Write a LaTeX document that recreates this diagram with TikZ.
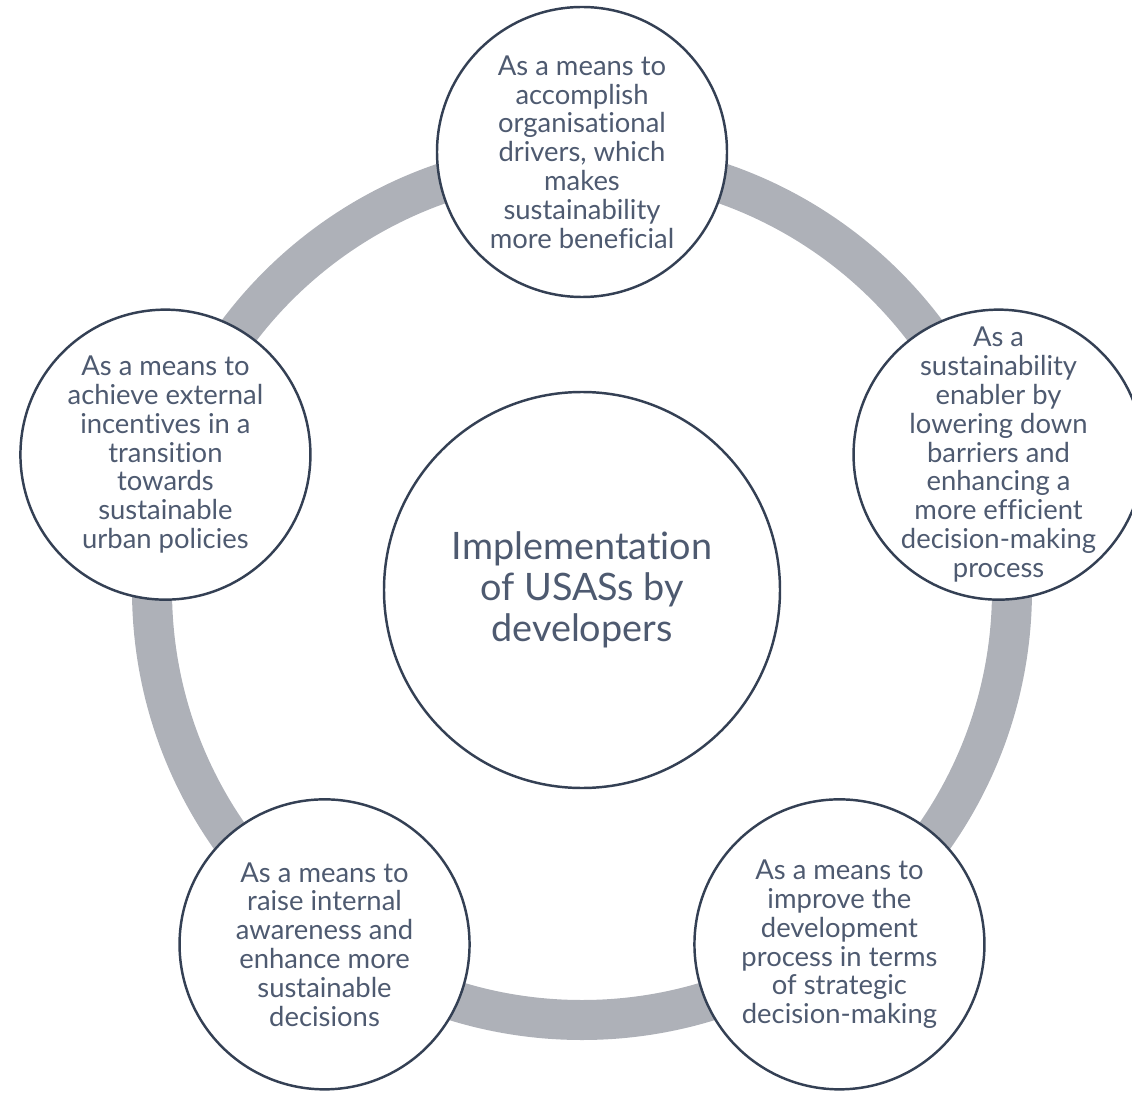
\documentclass[tikz,border=0pt]{standalone}
\usepackage{fontspec}
\setmainfont{Lato}[Ligatures=NoCommon]
\usepackage{tikz}
\usetikzlibrary{positioning,calc}
\definecolor{ringgray}{RGB}{174,177,184}
\definecolor{linenavy}{RGB}{52,64,84}
\definecolor{textslate}{RGB}{78,90,112}
\tikzset{
	every node/.style={text=textslate}
}
\tikzset{
	driver node/.style={circle,draw=linenavy,line width=1.4pt,fill=white,
		minimum size=5.8cm,inner sep=-1cm,align=center,
		font=\fontsize{15.6}{16.4}\selectfont}
}
\tikzset{
	core node/.style={circle,draw=linenavy,line width=1.4pt,fill=white,
		minimum size=7.92cm,inner sep=0pt,align=center,
		font=\fontsize{21.5}{23.2}\selectfont}
}

\begin{document}
\begin{tikzpicture}
	\useasboundingbox (-11.64,-10.08) rectangle (11.0,11.8);
	% ring behind the circles
	\draw[ringgray, line width=0.8cm] (0,0) circle (8.6);
	\node[core node] (core) at (0,0) {Implementation\\of USASs by\\developers};
	\node[driver node] (top) at (90:8.76) {As a means to\\accomplish\\organisational\\drivers, which\\makes\\sustainability\\more beneficial};
	\node[driver node] (right) at (18:8.76) {As a\\sustainability\\enabler by\\lowering down\\barriers and\\enhancing a\\more efficient\\decision-making\\process};
	\node[driver node] (lowright) at (-54:8.76) {As a means to\\improve the\\development\\process in terms\\of strategic\\decision-making};
	\node[driver node] (lowleft) at (234:8.76) {As a means to\\raise internal\\awareness and\\enhance more\\sustainable\\decisions};
	\node[driver node] (left) at (162:8.76) {As a means to\\achieve external\\incentives in a\\transition\\towards\\sustainable\\urban policies};
\end{tikzpicture}
\end{document}
